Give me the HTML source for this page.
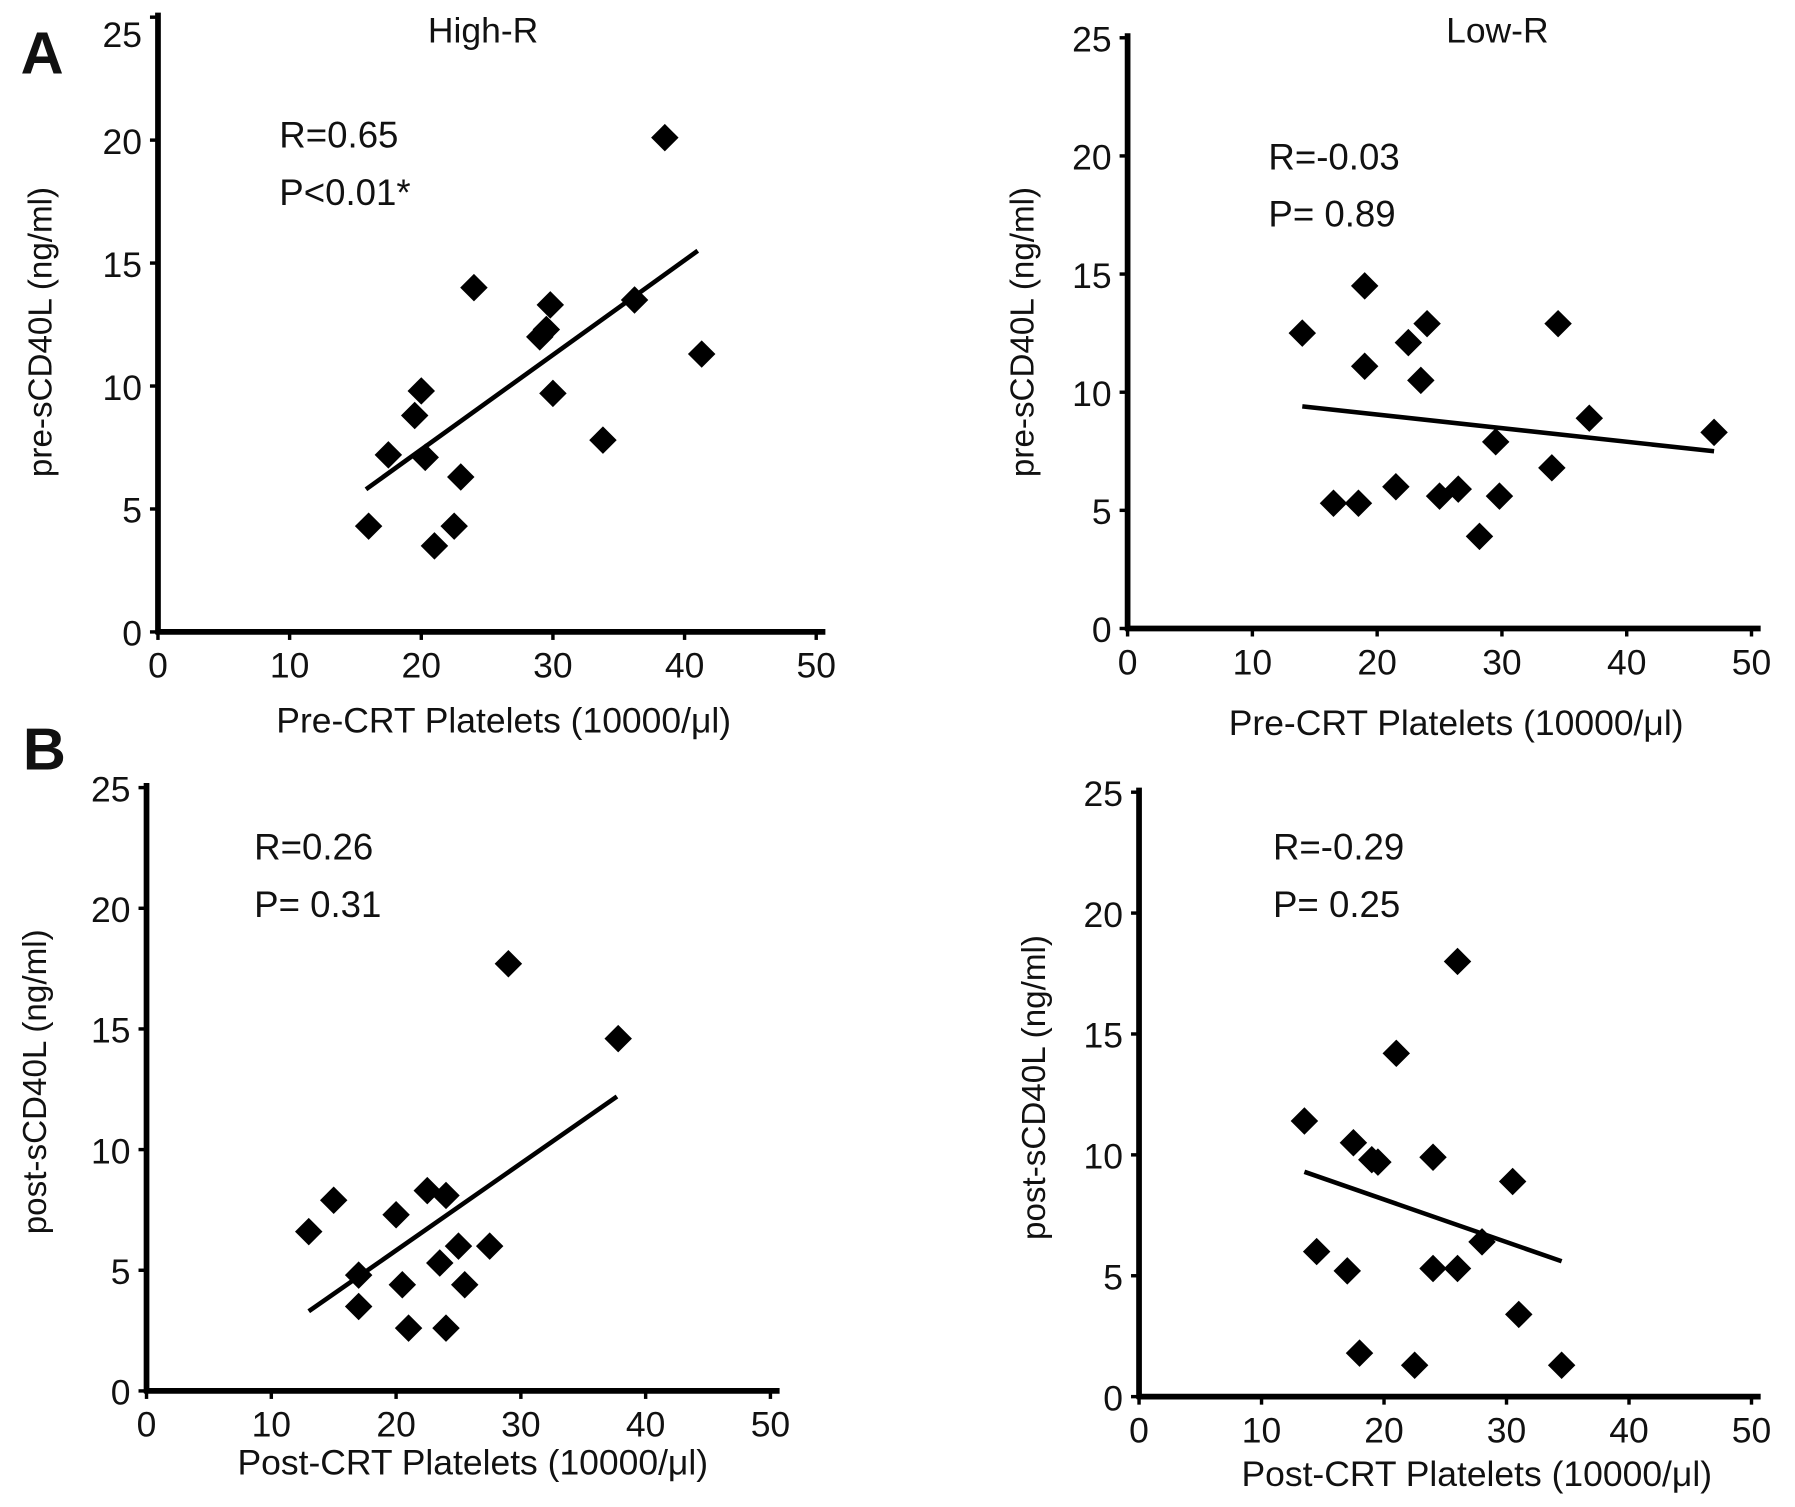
<!DOCTYPE html>
<html><head><meta charset="utf-8"><style>
html,body{margin:0;padding:0;background:#fff;}
svg{display:block;}
text{font-family:"Liberation Sans","Noto Sans CJK JP",sans-serif;fill:#111;}
</style></head><body>
<svg id="fig" width="1795" height="1507" viewBox="0 0 1568 1316.4" preserveAspectRatio="none" xmlns="http://www.w3.org/2000/svg">
<text x="18" y="64" font-size="52" font-weight="bold">A</text>
<text x="20" y="672" font-size="52" font-weight="bold">B</text>
</svg>
<script>
const xTicks=[0,10,20,30,40,50];
const yTicks=[0,5,10,15,20,25];
const aLeftX=[16,17.5,19.5,20,20.3,21,22.5,23,24,29,29.5,29.8,30,33.8,36.2,38.5,41.3];
const aLeftY=[4.3,7.2,8.8,9.8,7.1,3.5,4.3,6.3,14,12,12.3,13.3,9.7,7.8,13.5,20.1,11.3];
const aLeftFit=[[15.8,5.8],[41,15.5]];
const aRightX=[14,16.5,18.5,19,19,21.5,22.5,23.5,24,25,26.5,28.2,29.5,29.8,34,34.5,37,47];
const aRightY=[12.5,5.3,5.3,11.1,14.5,6,12.1,10.5,12.9,5.6,5.9,3.9,7.9,5.6,6.8,12.9,8.9,8.3];
const aRightFit=[[14,9.4],[47,7.5]];
const bLeftX=[13,15,17,17,20,20.5,21,22.5,23.5,24,24,25,25.5,27.5,29,37.8];
const bLeftY=[6.6,7.9,4.8,3.5,7.3,4.4,2.6,8.3,5.3,8.1,2.6,6,4.4,6,17.7,14.6];
const bLeftFit=[[13,3.3],[37.7,12.2]];
const bRightX=[13.5,14.5,17,17.5,18,19,19.5,21,22.5,24,24,26,26,28,30.5,31,34.5];
const bRightY=[11.4,6,5.2,10.5,1.8,9.8,9.7,14.2,1.3,9.9,5.3,18,5.3,6.4,8.9,3.4,1.3];
const bRightFit=[[13.5,9.3],[34.5,5.6]];

const NS="http://www.w3.org/2000/svg";
const svg=document.getElementById('fig');
function mk(tag,attrs,parent,txt){const e=document.createElementNS(NS,tag);for(const k in attrs)e.setAttribute(k,attrs[k]);if(txt!==undefined)e.textContent=txt;(parent||svg).appendChild(e);return e;}

function panel(p){
  const g=mk('g',{});
  
  
  const sx=v=>p.x0+(v/50)*(p.x50-p.x0);
  const sy=v=>p.y0-(v/25)*(p.y0-p.y25);
  const ax=mk('line',{x1:p.x0,y1:p.y25-4,x2:p.x0,y2:p.y0+2,stroke:'#000','stroke-width':5},g);
  
  
  const bx=mk('line',{x1:p.x0-2,y1:p.y0,x2:p.x50+8,y2:p.y0,stroke:'#000','stroke-width':5},g);
  
  
  xTicks.forEach(t=>{
    mk('line',{x1:sx(t),y1:p.y0,x2:sx(t),y2:p.y0+7,stroke:'#000','stroke-width':3},g);
    const l=mk('text',{x:sx(t),y:p.y0+40,'font-size':31,'text-anchor':'middle'},g,String(t));
    
    
  });
  yTicks.forEach(t=>{
    mk('line',{x1:p.x0-7,y1:sy(t),x2:p.x0,y2:sy(t),stroke:'#000','stroke-width':3},g);
    const l=mk('text',{x:p.x0-14,y:sy(t)+12+(t===25?p.top25:0),'font-size':31,'text-anchor':'end'},g,String(t));
    
    
  });
  const xt=mk('text',{x:p.xtX,y:p.xtY,'font-size':31,'text-anchor':'middle'},g,p.xTitle);
  
  
  const yt=mk('text',{x:0,y:0,'font-size':29,'text-anchor':'middle',transform:`translate(${p.ytX},${p.ytY}) rotate(-90)`},g,p.yTitle);
  
  
  if(p.title){const t=mk('text',{x:p.titleX,y:37,'font-size':31,'text-anchor':'middle'},g,p.title);
    
    }
  const r=mk('text',{x:p.rX,y:p.rY,'font-size':32},g,p.r);
  
  
  const pv=mk('text',{x:p.rX,y:p.rY+50,'font-size':32},g,p.p);
  
  
  const fl=mk('line',{x1:sx(p.fit[0][0]),y1:sy(p.fit[0][1]),x2:sx(p.fit[1][0]),y2:sy(p.fit[1][1]),stroke:'#000','stroke-width':4},g);
  
  
  const d=12;
  p.xs.forEach((xv,i)=>{
    const cx=sx(xv),cy=sy(p.ys[i]);
    const m=mk('polygon',{points:`${cx},${cy-d} ${cx+d},${cy} ${cx},${cy+d} ${cx-d},${cy}`,fill:'#000'},g);
    
    
  });
}
panel({name:'panel-a-high-r',x0:138,x50:713,y0:552,y25:15,top25:14,xs:aLeftX,ys:aLeftY,fit:aLeftFit,
  xTitle:'Pre-CRT Platelets (10000/μl)',xtX:440,xtY:640,yTitle:'pre-sCD40L (ng/ml)',ytX:45,ytY:290,
  title:'High-R',titleX:422,r:'R=0.65',p:'P<0.01*',rX:244,rY:129});
panel({name:'panel-a-low-r',x0:985,x50:1530,y0:549,y25:33,top25:0,xs:aRightX,ys:aRightY,fit:aRightFit,
  xTitle:'Pre-CRT Platelets (10000/μl)',xtX:1272,xtY:642,yTitle:'pre-sCD40L (ng/ml)',ytX:903,ytY:290,
  title:'Low-R',titleX:1308,r:'R=-0.03',p:'P= 0.89',rX:1108,rY:148});
panel({name:'panel-b-high-r',x0:128,x50:673,y0:1215,y25:688,top25:0,xs:bLeftX,ys:bLeftY,fit:bLeftFit,
  xTitle:'Post-CRT Platelets (10000/μl)',xtX:413,xtY:1288,yTitle:'post-sCD40L (ng/ml)',ytX:40,ytY:945,
  title:null,r:'R=0.26',p:'P= 0.31',rX:222,rY:751});
panel({name:'panel-b-low-r',x0:995,x50:1530,y0:1220,y25:692,top25:0,xs:bRightX,ys:bRightY,fit:bRightFit,
  xTitle:'Post-CRT Platelets (10000/μl)',xtX:1290,xtY:1298,yTitle:'post-sCD40L (ng/ml)',ytX:913,ytY:950,
  title:null,r:'R=-0.29',p:'P= 0.25',rX:1112,rY:751});
</script>
</body></html>
